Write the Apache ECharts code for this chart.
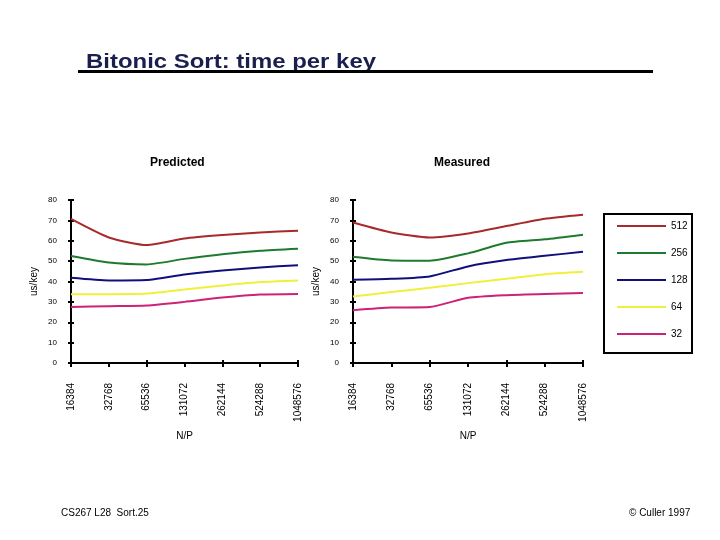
<!DOCTYPE html>
<html>
<head>
<meta charset="utf-8">
<script src="https://cdn.jsdelivr.net/npm/echarts@6/dist/echarts.min.js"></script>
<style>html,body{margin:0;padding:0;background:#fff;}#c{width:720px;height:540px;}</style>
</head>
<body>
<div id="c"></div>
<script>
const categories = ['16384','32768','65536','131072','262144','524288','1048576'];
const seriesNames = ['512','256','128','64','32'];
const seriesColors = ['#a82a2a','#1e7b2e','#10107a','#f0f03a','#cc2277'];
const predicted512 = [70.7,61.6,57.9,61.1,62.8,64.1,64.9];
const predicted256 = [52.5,49.3,48.4,51.1,53.4,55.1,56.1];
const predicted128 = [41.8,40.5,40.7,43.4,45.4,46.9,48.0];
const predicted64  = [33.8,33.8,34.1,36.1,38.0,39.7,40.5];
const predicted32  = [27.5,27.9,28.2,30.0,32.1,33.6,33.9];
const measured512 = [69.0,64.1,61.6,63.6,67.2,70.8,72.8];
const measured256 = [52.1,50.3,50.2,53.8,59.0,60.7,63.0];
const measured128 = [40.8,41.3,42.5,47.4,50.5,52.6,54.6];
const measured64  = [32.6,34.8,36.9,39.2,41.3,43.6,44.8];
const measured32  = [25.9,27.2,27.5,32.0,33.3,33.9,34.3];
const yTicks = {min:0, max:80, interval:10};

const predicted = [predicted512,predicted256,predicted128,predicted64,predicted32];
const measured = [measured512,measured256,measured128,measured64,measured32];

const font = 'Liberation Sans, Arial, sans-serif';
const chart = echarts.init(document.getElementById('c'));

function xAxes(gi){
  return [
    {type:'category', gridIndex:gi, data:categories, boundaryGap:false,
     name:'N/P', nameLocation:'middle', nameGap:68,
     nameTextStyle:{fontFamily:font, fontSize:10, color:'#000'},
     axisLine:{lineStyle:{color:'#000', width:2}},
     axisTick:{length:4, lineStyle:{color:'#000', width:2}},
     axisLabel:{rotate:90, margin:20, fontFamily:font, fontSize:10, color:'#000', interval:0}},
    {type:'category', gridIndex:gi, data:categories, boundaryGap:false, position:'bottom', offset:0,
     axisLine:{show:false}, axisLabel:{show:false},
     axisTick:{inside:true, length:3, lineStyle:{color:'#000', width:2}}}
  ];
}
function yAxes(gi){
  return [
    {type:'value', gridIndex:gi, min:yTicks.min, max:yTicks.max, interval:yTicks.interval,
     name:'us/key', nameLocation:'middle', nameGap:32,
     nameTextStyle:{fontFamily:font, fontSize:10, color:'#000'},
     axisLine:{show:true, lineStyle:{color:'#000', width:2}},
     axisTick:{show:true, length:3, lineStyle:{color:'#000', width:2}},
     splitLine:{show:false},
     axisLabel:{margin:14, fontFamily:font, fontSize:8, color:'#000'}},
    {type:'value', gridIndex:gi, min:yTicks.min, max:yTicks.max, interval:yTicks.interval,
     position:'left', offset:0,
     axisLine:{show:false}, axisLabel:{show:false}, splitLine:{show:false},
     axisTick:{show:true, inside:true, length:3, lineStyle:{color:'#000', width:2}}}
  ];
}

const series = [];
[predicted, measured].forEach((set, gi) => {
  set.forEach((vals, i) => {
    series.push({
      type:'line', name:seriesNames[i], data:vals,
      xAxisIndex: gi*2, yAxisIndex: gi*2,
      symbol:'none', smooth:0.2,
      lineStyle:{color:seriesColors[i], width:2},
      itemStyle:{color:seriesColors[i]},
      animation:false
    });
  });
});

chart.setOption({
  animation:false,
  backgroundColor:'#fff',
  grid:[
    {left:71, top:200, width:227, height:163},
    {left:353, top:200, width:230, height:163}
  ],
  xAxis:[...xAxes(0), ...xAxes(1)],
  yAxis:[...yAxes(0), ...yAxes(1)],
  legend:{
    orient:'vertical', left:612, top:216,
    itemWidth:49, itemHeight:14, itemGap:17,
    icon:'path://M0,0L49,0L49,2L0,2Z',
    symbolKeepAspect:true,
    data:seriesNames,
    textStyle:{fontFamily:font, fontSize:10, color:'#000', padding:[4,0,0,0]},
    selectedMode:false
  },
  series: series,
  graphic:[
    {type:'text', x:86, y:73, scaleX:1.14, style:{text:'Bitonic Sort: time per key', font:'bold 21px '+font, fill:'#1a1f4d', textBaseline:'alphabetic', verticalAlign:'bottom'}},
    {type:'rect', shape:{x:78, y:70, width:575, height:3}, style:{fill:'#000'}},
    {type:'text', left:150, top:157, style:{text:'Predicted', font:'bold 12px '+font, fill:'#000'}},
    {type:'text', left:434, top:157, style:{text:'Measured', font:'bold 12px '+font, fill:'#000'}},
    {type:'rect', shape:{x:604, y:214, width:88, height:139}, style:{fill:'none', stroke:'#000', lineWidth:2}},
    {type:'text', left:61, top:508, style:{text:'CS267 L28  Sort.25', font:'10px '+font, fill:'#000'}},
    {type:'text', left:629, top:508, style:{text:'\u00A9 Culler 1997', font:'10px '+font, fill:'#000'}}
  ]
});
</script>
</body>
</html>
